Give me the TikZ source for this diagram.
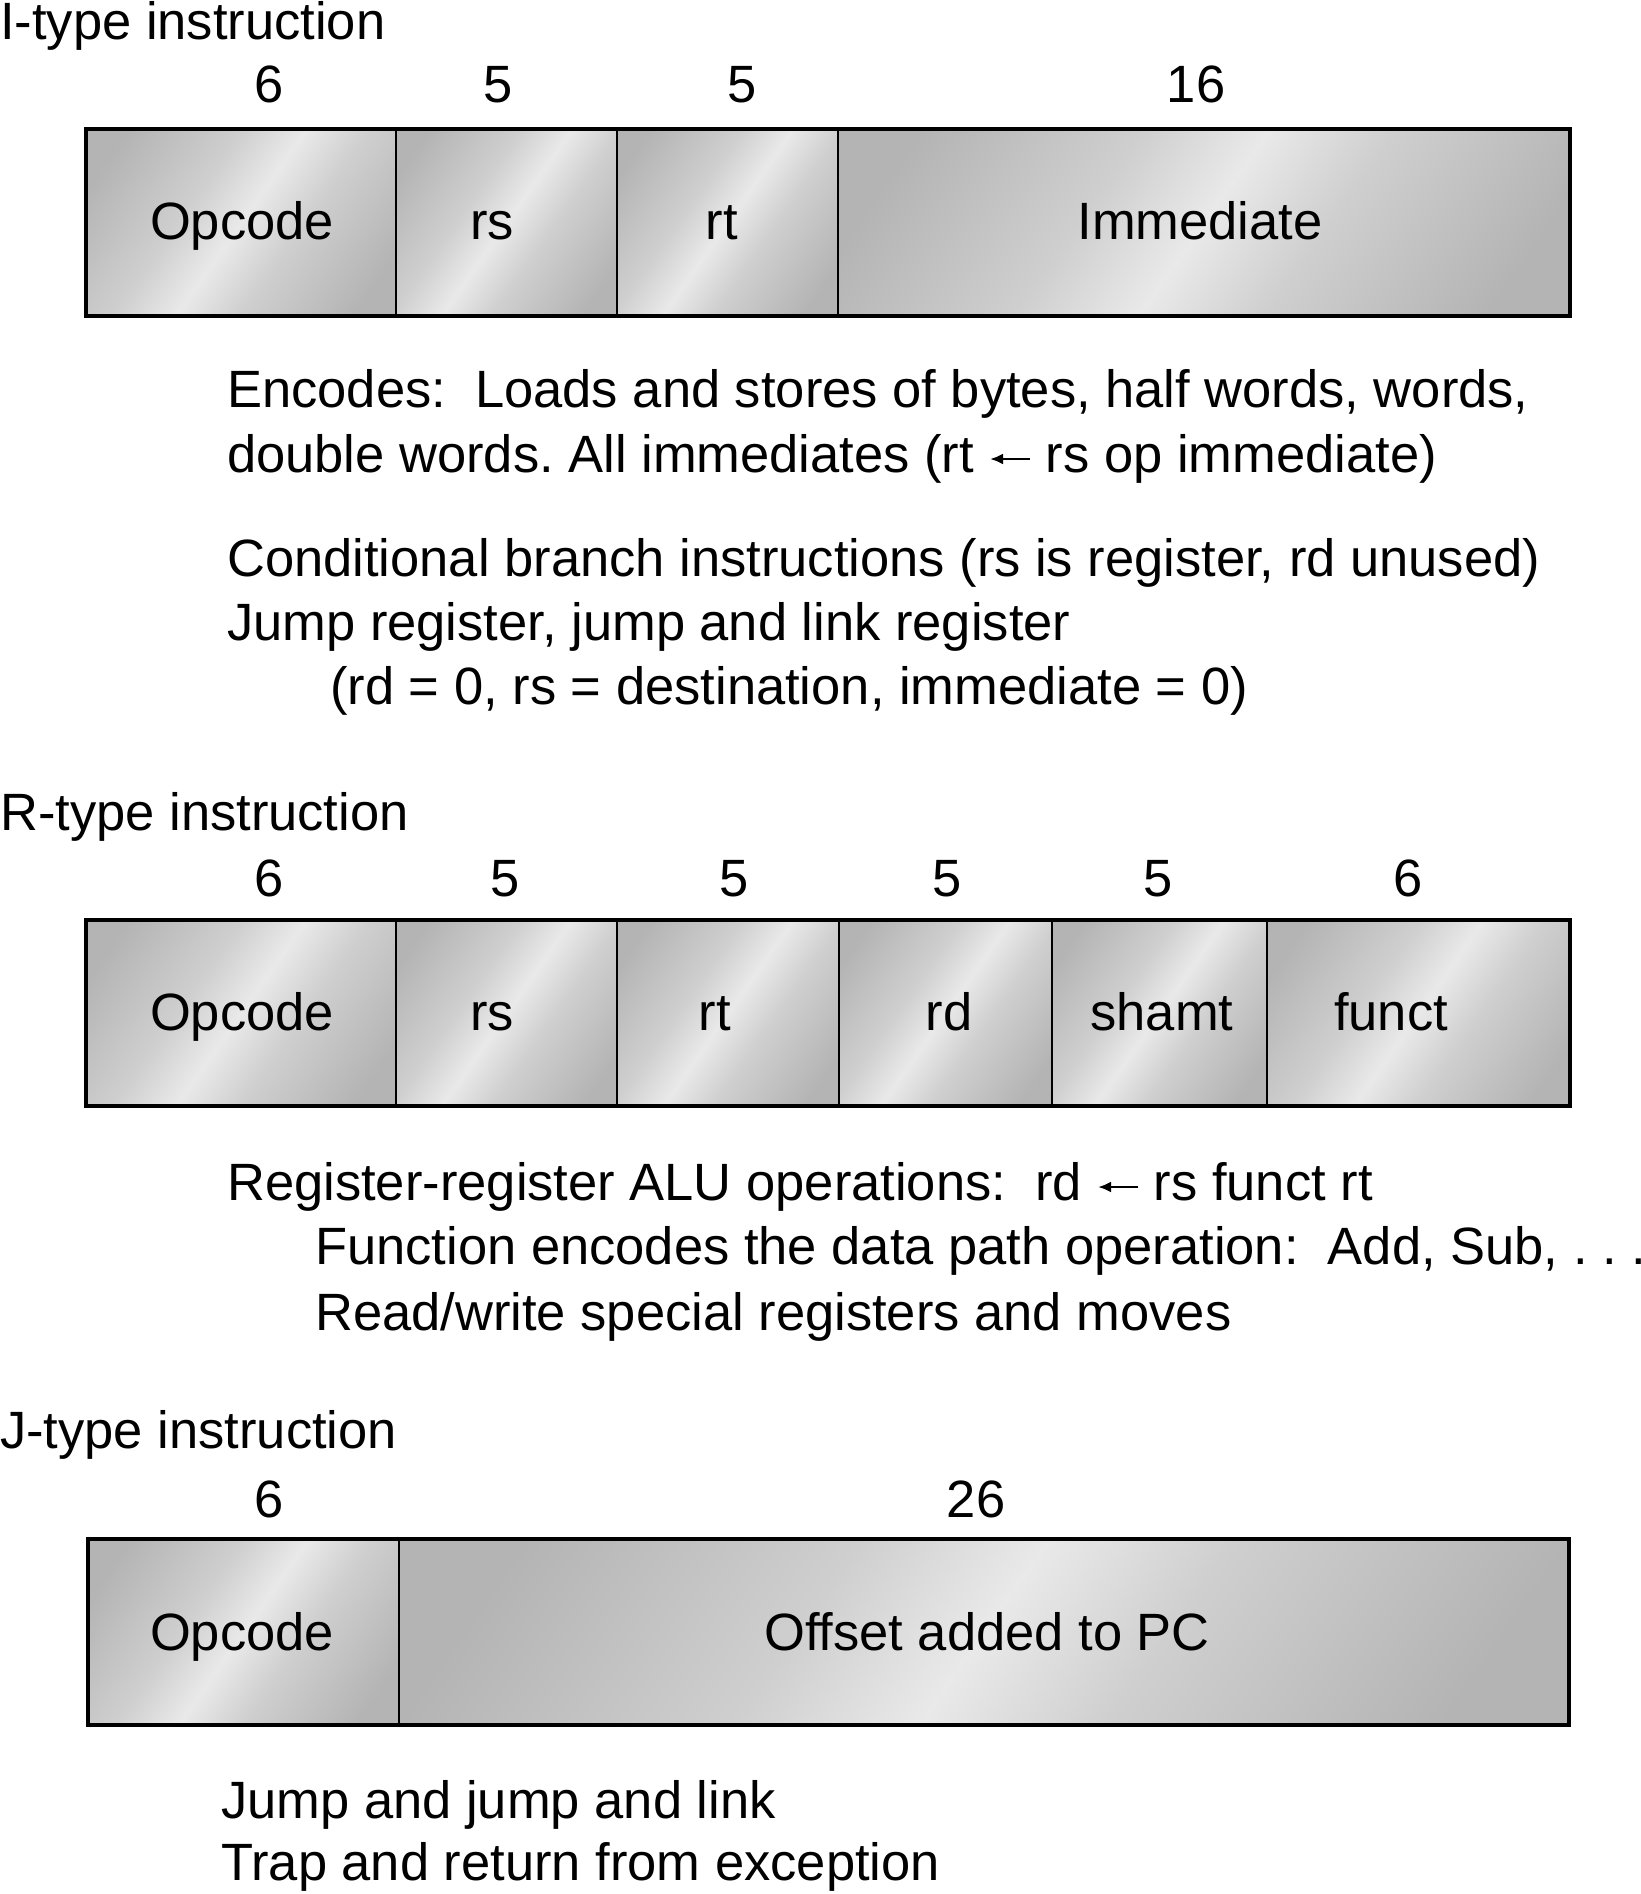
\documentclass[tikz,border=0pt]{standalone}
\usepackage{fontspec}
\setmainfont{Liberation Sans}
\usetikzlibrary{arrows.meta}
\definecolor{mA}{HTML}{B4B4B4}
\definecolor{mB}{HTML}{CFCFCF}
\definecolor{mC}{HTML}{E9E9E9}
\pgfdeclarehorizontalshading{metal}{100bp}{color(0bp)=(mA); color(22bp)=(mA); color(40bp)=(mB); color(50bp)=(mC); color(60bp)=(mB); color(78bp)=(mA); color(100bp)=(mA)}
\newcommand\larr{\tikz[baseline=0pt,x=1pt,y=1pt]\draw[line width=2.6pt,-{Latex[length=13pt,width=11pt]}] (40,13) -- (0,13);}
\tikzset{
  cell/.style={shading=metal, shading angle=-35},
  outer/.style={line width=3.5pt},
  divider/.style={line width=2.2pt},
  lbl/.style={anchor=base, inner sep=0pt, font=\fontsize{52.5}{62}\selectfont},
  txt/.style={anchor=base west, inner sep=0pt, font=\fontsize{52.5}{62}\selectfont},
}
\frenchspacing
\begin{document}
\frenchspacing
\begin{tikzpicture}[x=1pt,y=-1pt]
\useasboundingbox (0,0) rectangle (1640,1894);
\fill[white] (0,0) rectangle (1640,1894);

% ---------- I-type ----------
\node[txt] (ititle) at (0,40) {I-type instruction};
\node[lbl] (in1) at (269,103) {6};
\node[lbl] (in2) at (498,103) {5};
\node[lbl] (in3) at (742,103) {5};
\node[lbl] (in4) at (1196,103) {16};
\shade[cell] (86,129) rectangle (396,316);
\shade[cell] (396,129) rectangle (617,316);
\shade[cell] (617,129) rectangle (838,316);
\shade[cell] (838,129) rectangle (1570,316);
\draw[divider] (396,129) -- (396,316) (617,129) -- (617,316) (838,129) -- (838,316);
\draw[outer] (86,129) rectangle (1570,316);
\node[lbl] (iop) at (242,240) {Opcode};
\node[lbl] (irs) at (492,240) {rs};
\node[lbl] (irt) at (722,240) {rt};
\node[lbl] (iimm) at (1200,240) {Immediate};
\node[txt] (it1) at (227,407) {Encodes:\ \ Loads and stores of bytes, half words, words,};
\node[txt] (it2) at (227,472) {double words. All immediates (rt \larr\ rs op immediate)};
\node[txt] (it3) at (227,576) {Conditional branch instructions (rs is register, rd unused)};
\node[txt] (it4) at (227,640) {Jump register, jump and link register};
\node[txt] (it5) at (330,704) {(rd = 0, rs = destination, immediate = 0)};

% ---------- R-type ----------
\node[txt] (rtitle) at (0,830) {R-type instruction};
\node[lbl] (rn1) at (269,896) {6};
\node[lbl] (rn2) at (505,896) {5};
\node[lbl] (rn3) at (734,896) {5};
\node[lbl] (rn4) at (947,896) {5};
\node[lbl] (rn5) at (1158,896) {5};
\node[lbl] (rn6) at (1408,896) {6};
\shade[cell] (86,920) rectangle (396,1106);
\shade[cell] (396,920) rectangle (617,1106);
\shade[cell] (617,920) rectangle (839,1106);
\shade[cell] (839,920) rectangle (1052,1106);
\shade[cell] (1052,920) rectangle (1267,1106);
\shade[cell] (1267,920) rectangle (1570,1106);
\draw[divider] (396,920) -- (396,1106) (617,920) -- (617,1106) (839,920) -- (839,1106)
  (1052,920) -- (1052,1106) (1267,920) -- (1267,1106);
\draw[outer] (86,920) rectangle (1570,1106);
\node[lbl] (rop) at (242,1030) {Opcode};
\node[lbl] (rrs) at (492,1030) {rs};
\node[lbl] (rrt) at (715,1030) {rt};
\node[lbl] (rrd) at (949,1030) {rd};
\node[lbl] (rsh) at (1162,1030) {shamt};
\node[lbl] (rfn) at (1391,1030) {funct};
\node[txt] (rt1) at (227,1200) {Register-register ALU operations:\ \ rd \larr\ rs funct rt};
\node[txt] (rt2) at (315,1264) {Function encodes the data path operation:\ \ Add, Sub, .\ .\ .};
\node[txt] (rt3) at (315,1330) {Read/write special registers and moves};

% ---------- J-type ----------
\node[txt] (jtitle) at (0,1448) {J-type instruction};
\node[lbl] (jn1) at (269,1517) {6};
\node[lbl] (jn2) at (976,1517) {26};
\shade[cell] (88,1539) rectangle (399,1725);
\shade[cell] (399,1539) rectangle (1569,1725);
\draw[divider] (399,1539) -- (399,1725);
\draw[outer] (88,1539) rectangle (1569,1725);
\node[lbl] (jop) at (242,1650) {Opcode};
\node[lbl] (joff) at (987,1650) {Offset added to PC};
\node[txt] (jt1) at (221,1818) {Jump and jump and link};
\node[txt] (jt2) at (221,1880) {Trap and return from exception};
\end{tikzpicture}
\end{document}
